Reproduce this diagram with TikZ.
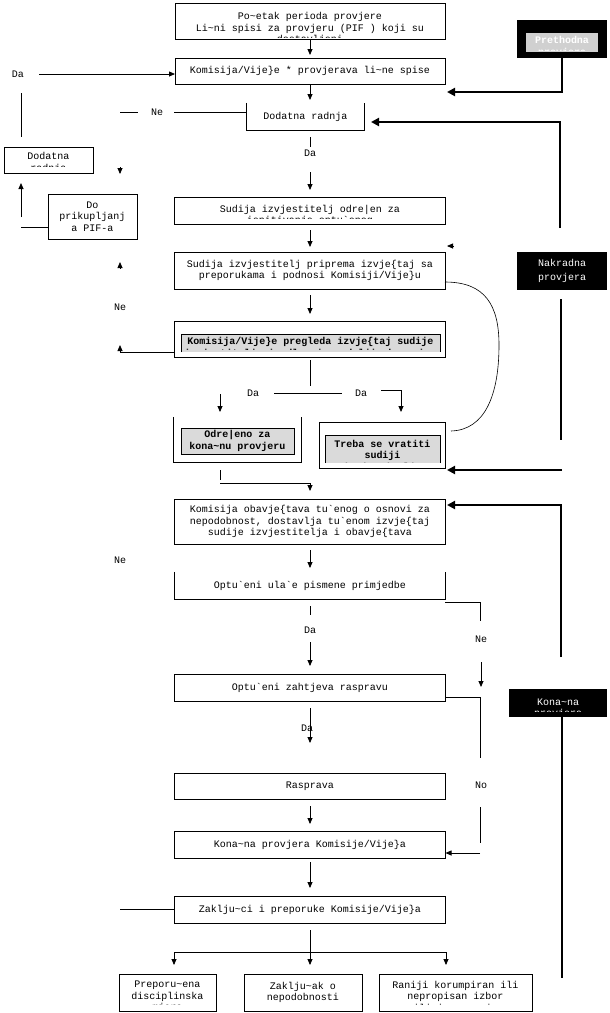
\documentclass[tikz,border=0pt]{standalone}
\usepackage{fontspec}
\setmonofont{Liberation Mono}
\usetikzlibrary{arrows.meta}
\definecolor{lgray}{HTML}{DADADA}
\definecolor{pgray}{HTML}{D0D0D0}
\newcommand{\chc}{\textasciitilde}
\newcommand{\chs}{\{}
\newcommand{\chz}{\textasciigrave}
\newcommand{\chd}{\textbar}
\newcommand{\chk}{\}}
\begin{document}
\begin{tikzpicture}[x=1pt,y=-1pt,
  boxf/.style={draw,line width=0.8pt,inner sep=0,outer sep=0},
  txt/.style={inner sep=0,align=center,font=\ttfamily\fontsize{10}{11.5}\selectfont},
  btxt/.style={inner sep=0,align=center,font=\ttfamily\bfseries\fontsize{10}{11.5}\selectfont},
  wtxt/.style={inner sep=0,align=center,text=white,font=\ttfamily\fontsize{10}{14}\selectfont},
  ln/.style={line width=0.8pt},
  arr/.style={line width=0.8pt,-{Triangle[length=6pt,width=5pt]}},
  tk/.style={line width=2.2pt},
  tkarr/.style={line width=2.2pt,-{Triangle[length=8pt,width=8pt]}},
  blk/.style={fill=black,inner sep=0,outer sep=0},
  gfill/.style={fill=lgray,inner sep=0,outer sep=0}
]
\useasboundingbox[fill=white] (0,0) rectangle (610,1013);

% ---------- main column boxes ----------
\node[boxf,minimum width=270,minimum height=36] (b1) at (310,21) {};
\begin{scope}\clip (175,3) rectangle (445,37);
\node[txt] (b1t) at (310,28.5) {Po\chc etak perioda provjere\\Li\chc ni spisi za provjeru (PIF ) koji su\\dostavljeni};
\end{scope}

\node[boxf,txt,minimum width=270,minimum height=26] (b2) at (310,71) {Komisija/Vije\chk e * provjerava li\chc ne spise};

\node[txt,minimum width=117,minimum height=27] (b3) at (305.5,116.5) {Dodatna radnja};
\draw[ln] (b3.north west) -- (b3.south west) -- (b3.south east) -- (b3.north east);

\node[boxf,minimum width=89,minimum height=26] (b4) at (48.5,160) {};
\begin{scope}\clip (4,147) rectangle (93,166);
\node[txt] (b4t) at (48.5,163) {Dodatna\\radnja};
\end{scope}

\node[boxf,txt,minimum width=89,minimum height=45] (b5) at (92.5,216.5) {Do\\prikupljanj\\a PIF-a};

\node[boxf,minimum width=271,minimum height=27] (b6) at (310,210.5) {};
\begin{scope}\clip (174.5,197) rectangle (445.5,218.5);
\node[txt] (b6t) at (310,215.5) {Sudija izvjestitelj odre\chd en za\\ispitivanje optu\chz enog};
\end{scope}

\node[boxf,txt,minimum width=271,minimum height=37] (b7) at (310,270.5) {Sudija izvjestitelj priprema izvje\chs taj sa\\preporukama i podnosi Komisiji/Vije\chk u};

\node[boxf,minimum width=271,minimum height=36] (b8) at (310,339) {};
\node[gfill,minimum width=259,minimum height=18] (b8i) at (310.5,343) {};
\draw[ln] (b8i.south west) -- (b8i.north west) -- (b8i.north east) -- (b8i.south east);
\begin{scope}\clip (181,334) rectangle (440,349);
\node[btxt] (b8t) at (310.5,348) {Komisija/Vije\chk e pregleda izvje\chs taj sudije\\izvjestitelja i odlu\chc uje o daljim koracima};
\end{scope}

\node[minimum width=127,minimum height=45,inner sep=0] (b9) at (237.5,439.5) {};
\draw[ln] (b9.north west) -- (b9.south west) -- (b9.south east) -- (b9.north east);
\node[boxf,gfill,btxt,minimum width=113,minimum height=26] (b9i) at (237.5,441) {Odre\chd eno za\\kona\chc nu provjeru};

\node[boxf,minimum width=126,minimum height=46] (b10) at (382,445) {};
\node[gfill,minimum width=115,minimum height=28] (b10i) at (382.5,449) {};
\draw[ln] (b10i.south west) -- (b10i.north west) -- (b10i.north east) -- (b10i.south east);
\begin{scope}\clip (325,435) rectangle (440,462);
\node[btxt] (b10t) at (382.5,456) {Treba se vratiti\\sudiji\\izvjestitelju};
\end{scope}

\node[boxf,txt,minimum width=271,minimum height=45] (b11) at (310,521.5) {Komisija obavje\chs tava tu\chz enog o osnovi za\\nepodobnost, dostavlja tu\chz enom izvje\chs taj\\sudije izvjestitelja i obavje\chs tava};

\node[txt,minimum width=271,minimum height=27] (b12) at (310,585.5) {Optu\chz eni ula\chz e pismene primjedbe};
\draw[ln] (b12.north west) -- (b12.south west) -- (b12.south east) -- (b12.north east);

\node[boxf,txt,minimum width=271,minimum height=27] (b13) at (310,687.5) {Optu\chz eni zahtjeva raspravu};
\node[boxf,txt,minimum width=271,minimum height=26] (b14) at (310,786) {Rasprava};
\node[boxf,txt,minimum width=271,minimum height=27] (b15) at (310,844.5) {Kona\chc na provjera Komisije/Vije\chk a};
\node[boxf,txt,minimum width=271,minimum height=27] (b16) at (310,909.5) {Zaklju\chc ci i preporuke Komisije/Vije\chk a};

\node[boxf,minimum width=97,minimum height=37] (b17) at (167.5,992.5) {};
\begin{scope}\clip (119,974) rectangle (216,1004.5);
\node[txt] (b17t) at (167.5,997) {Preporu\chc ena\\disciplinska\\mjera};
\end{scope}
\node[boxf,txt,minimum width=118,minimum height=37] (b18) at (303,992.5) {Zaklju\chc ak o\\nepodobnosti};
\node[boxf,minimum width=153,minimum height=37] (b19) at (455.5,992.5) {};
\begin{scope}\clip (379,974) rectangle (532,1004.5);
\node[txt] (b19t) at (455.5,997) {Raniji korumpiran ili\\nepropisan izbor\\ili imenovanje};
\end{scope}

% ---------- black boxes ----------
\node[blk,minimum width=90,minimum height=38] (k1) at (562,39) {};
\node[fill=pgray,inner sep=0,minimum width=72,minimum height=19] (k1i) at (562,42.5) {};
\begin{scope}\clip (526,33) rectangle (598,50);
\node[inner sep=0,align=center,text=white,font=\ttfamily\bfseries\fontsize{10}{11.5}\selectfont] (k1t) at (562,46.8) {Prethodna\\provjera};
\end{scope}

\node[blk,wtxt,minimum width=90,minimum height=38] (k2) at (562,271) {Nakradna\\provjera};

\node[blk,minimum width=98,minimum height=28] (k3) at (558,703) {};
\begin{scope}\clip (509,689) rectangle (607,711);
\node[inner sep=0,align=center,text=white,font=\ttfamily\fontsize{10}{11.5}\selectfont] (k3t) at (558,708.5) {Kona\chc na\\provjera};
\end{scope}

% ---------- labels ----------
\node[txt] (da1) at (18,74) {Da};
\node[txt] (ne1) at (157,112) {Ne};
\node[txt] (da2) at (310,153) {Da};
\node[txt] (ne2) at (120,307) {Ne};
\node[txt] (da3) at (253,393) {Da};
\node[txt] (da4) at (361,393) {Da};
\node[txt] (ne3) at (120,560) {Ne};
\node[txt] (da5) at (310,630) {Da};
\node[txt] (ne4) at (481,639) {Ne};
\node[txt] (da6) at (307,728) {Da};
\node[txt] (no1) at (481,785) {No};

% ---------- free ends ----------
\coordinate (c1t) at (310,55);
\coordinate (c2a) at (39,74);
\coordinate (c3t) at (310,100);
\coordinate (c4t) at (447,92);
\coordinate (c5a) at (120,112); \coordinate (c5b) at (138,112);
\coordinate (c5c) at (174,112);
\coordinate (c6a) at (560,228); \coordinate (c6t) at (371,122);
\coordinate (c7a) at (21,93); \coordinate (c7b) at (21,137);
\coordinate (c8a) at (21,217); \coordinate (c8t) at (21,183);
\coordinate (c8c) at (21,227);
\coordinate (c9a) at (120,167); \coordinate (c9t) at (120,174);
\coordinate (c10a) at (120,269); \coordinate (c10t) at (120,262);
\coordinate (c12t) at (120,345);
\coordinate (c13a) at (454,246); \coordinate (c13t) at (447,246);
\coordinate (c14a) at (310,137); \coordinate (c14b) at (310,147);
\coordinate (c14c) at (310,172); \coordinate (c14t) at (310,190);
\coordinate (c15a) at (310,230); \coordinate (c15t) at (310,247);
\coordinate (c16a) at (310,295); \coordinate (c16t) at (310,314);
\coordinate (c17a) at (310,360); \coordinate (c17b) at (310,386);
\coordinate (c18a) at (274,393); \coordinate (c18b) at (342,393);
\coordinate (c19a) at (381,390); \coordinate (c19t) at (401,412);
\coordinate (c20a) at (220,394); \coordinate (c20t) at (220,412);
\coordinate (c21a) at (562,470); \coordinate (c21t) at (447,470);
\coordinate (c22a) at (561,299); \coordinate (c22b) at (561,440);
\coordinate (c23a) at (220,470); \coordinate (c23b) at (220,480);
\coordinate (c23c) at (220,483); \coordinate (c23t) at (310,491);
\coordinate (c24a) at (561,657); \coordinate (c24t) at (447,505);
\coordinate (c25a) at (310,550); \coordinate (c25t) at (310,568);
\coordinate (c26a) at (445,602); \coordinate (c26b) at (480,621);
\coordinate (c27a) at (481,662); \coordinate (c27t) at (481,687);
\coordinate (c28a) at (310,606); \coordinate (c28b) at (310,615);
\coordinate (c28c) at (310,642); \coordinate (c28t) at (310,666);
\coordinate (c29a) at (445,697); \coordinate (c29b) at (480,758);
\coordinate (c30a) at (480,807); \coordinate (c30b) at (480,843);
\coordinate (c31a) at (480,853);
\coordinate (c32a) at (310,708); \coordinate (c32t) at (310,743);
\coordinate (c33a) at (310,806); \coordinate (c33t) at (310,824);
\coordinate (c34a) at (310,862); \coordinate (c34t) at (310,888);
\coordinate (c35) at (120,909.5);
\coordinate (c36a) at (310,930); \coordinate (c36t) at (310,965);
\coordinate (c37a) at (174,952); \coordinate (c37b) at (446,952);
\coordinate (c37at) at (174,965); \coordinate (c37bt) at (446,965);
\coordinate (c38) at (562,978);
\coordinate (cv0) at (445,282); \coordinate (cv1) at (499,345); \coordinate (cv2) at (451,431);

% ---------- connectors ----------
\draw[arr] (b1.south) -- (c1t);
\draw[arr] (c2a) -- (b2.west |- c2a);
\draw[arr] (b2.south) -- (c3t);
\draw[tkarr] (k1.south) |- (c4t);
\draw[ln] (c5a) -- (c5b);
\draw[ln] (c5c) -- (b3.west |- c5c);
\draw[tkarr] (c6a) |- (c6t);
\draw[ln] (c7a) -- (c7b);
\draw[arr] (c8a) -- (c8t);
\draw[ln] (c8c) -- (b5.west |- c8c);
\draw[arr] (c9a) -- (c9t);
\draw[arr] (c10a) -- (c10t);
\draw[arr] ([yshift=-13pt]b8.west) -| (c12t);
\draw[arr] (c13a) -- (c13t);
\draw[ln] (c14a) -- (c14b);
\draw[arr] (c14c) -- (c14t);
\draw[arr] (c15a) -- (c15t);
\draw[arr] (c16a) -- (c16t);
\draw[ln] (c17a) -- (c17b);
\draw[ln] (c18a) -- (c18b);
\draw[arr] (c19a) -| (c19t);
\draw[arr] (c20a) -- (c20t);
\draw[tkarr] (c21a) -- (c21t);
\draw[tk] (c22a) -- (c22b);
\draw[ln] (c23a) -- (c23b);
\draw[arr] (c23c) -| (c23t);
\draw[tkarr] (c24a) |- (c24t);
\draw[arr] (c25a) -- (c25t);
\draw[ln] (c26a) -| (c26b);
\draw[arr] (c27a) -- (c27t);
\draw[ln] (c28a) -- (c28b);
\draw[arr] (c28c) -- (c28t);
\draw[ln] (c29a) -| (c29b);
\draw[ln] (c30a) -- (c30b);
\draw[arr] (c31a) -- (b15.east |- c31a);
\draw[arr] (c32a) -- (c32t);
\draw[arr] (c33a) -- (c33t);
\draw[arr] (c34a) -- (c34t);
\draw[ln] (b16.west) -- (c35);
\draw[arr] (c36a) -- (c36t);
\draw[ln] (c37a) -- (c37b);
\draw[arr] (c37a) -- (c37at);
\draw[arr] (c37b) -- (c37bt);
\draw[tk] (k3.south -| c38) -- (c38);
\draw[line width=0.6pt] (cv0) .. controls (485,282) and (499,305) .. (cv1) .. controls (499,395) and (485,430) .. (cv2);
\end{tikzpicture}
\end{document}
